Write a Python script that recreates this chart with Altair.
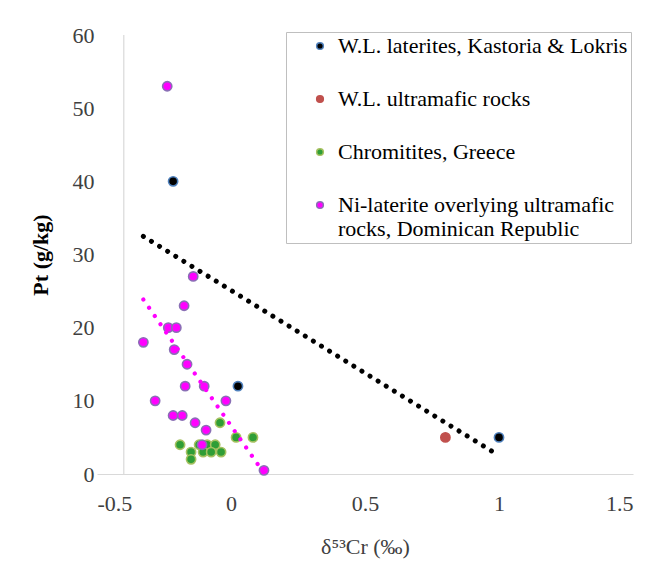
import altair as alt
import pandas as pd

series_names = [
    "W.L. laterites, Kastoria & Lokris",
    "W.L. ultramafic rocks",
    "Chromitites, Greece",
    "Ni-laterite overlying ultramafic rocks, Dominican Republic",
]

laterites_x = [-0.216, 0.026, 1.0]
laterites_y = [40, 12, 5]

ultramafic_x = [0.8]
ultramafic_y = [5]

chromitite_x = [-0.041, 0.019, 0.082, -0.190, -0.119, -0.089, -0.059,
                -0.149, -0.104, -0.074, -0.037, -0.149]
chromitite_y = [7, 5, 5, 4, 4, 4, 4, 3, 3, 3, 3, 2]

nilaterite_x = [-0.238, -0.141, -0.175, -0.234, -0.204, -0.327, -0.212, -0.164,
                -0.171, -0.100, -0.283, -0.019, -0.216, -0.182, -0.134, -0.093,
                -0.108, 0.123]
nilaterite_y = [53, 27, 23, 20, 20, 18, 17, 15, 12, 12, 10, 10, 8, 8, 7, 6, 4, 0.5]

x_ticks = [-0.5, 0, 0.5, 1, 1.5]
y_ticks = [0, 10, 20, 30, 40, 50, 60]
y_axis_cross = -0.4
black_trend_extent = [-0.327, 1.0]

fill_colors = ["#000000", "#c0504d", "#2f9e36", "#ff00ff"]
stroke_colors = ["#4f81bd", "#c0504d", "#a6c160", "#8a6fb5"]

rows = []
for name, xs, ys in zip(series_names,
                        [laterites_x, ultramafic_x, chromitite_x, nilaterite_x],
                        [laterites_y, ultramafic_y, chromitite_y, nilaterite_y]):
    for xv, yv in zip(xs, ys):
        rows.append({"series": name, "x": xv, "y": yv})
df = pd.DataFrame(rows)
df["order"] = range(len(df))

axis_df = pd.DataFrame({"x": [y_axis_cross], "y": [y_ticks[0]], "y2": [y_ticks[-1]]})

FONT = "Liberation Serif"

xscale = alt.Scale(domain=[x_ticks[0], x_ticks[-1]], nice=False, zero=False)
yscale = alt.Scale(domain=[y_ticks[0], y_ticks[-1]], nice=False)

legend = alt.Legend(
    title=None,
    orient="none",
    legendX=189,
    legendY=-3,
    strokeColor="#bfbfbf",
    padding=3,
    symbolOffset=20,
    symbolType="circle",
    symbolSize=45,
    symbolStrokeWidth=1.5,
    labelFont=FONT,
    labelFontSize=22,
    labelColor="#000000",
    labelOffset=7,
    labelLimit=500,
    rowPadding=31,
    labelExpr=(
        f"datum.label == '{series_names[3]}' ? "
        "['Ni-laterite overlying ultramafic', 'rocks, Dominican Republic'] : datum.label"
    ),
)

x_enc = alt.X(
    "x:Q",
    scale=xscale,
    axis=alt.Axis(
        values=x_ticks,
        title="δ⁵³Cr (‰)",
        labelExpr="'' + datum.value",
        grid=False,
        ticks=False,
        domainColor="#d9d9d9",
        domainWidth=1.2,
        labelPadding=19,
        titlePadding=22,
        labelFont=FONT,
        labelFontSize=22,
        labelColor="#404040",
        titleFont=FONT,
        titleFontSize=22,
        titleColor="#404040",
        titleFontWeight="normal",
    ),
)
y_enc = alt.Y(
    "y:Q",
    scale=yscale,
    axis=alt.Axis(
        values=y_ticks,
        title="Pt (g/kg)",
        grid=False,
        ticks=False,
        domain=False,
        labelPadding=3,
        titlePadding=20,
        labelFont=FONT,
        labelFontSize=22,
        labelColor="#404040",
        titleFont=FONT,
        titleFontSize=22,
        titleColor="#000000",
        titleFontWeight="bold",
    ),
)

axis_rule = alt.Chart(axis_df).mark_rule(color="#d9d9d9", strokeWidth=1.2).encode(
    x=alt.X("x:Q", scale=xscale),
    y=alt.Y("y:Q", scale=yscale),
    y2="y2:Q",
)

points = alt.Chart(df).mark_point(filled=True, size=85, opacity=1, strokeWidth=1.6).encode(
    x=x_enc,
    y=y_enc,
    fill=alt.Fill("series:N", scale=alt.Scale(domain=series_names, range=fill_colors), legend=legend),
    stroke=alt.Stroke("series:N", scale=alt.Scale(domain=series_names, range=stroke_colors), legend=legend),
    order=alt.Order("order:Q"),
)

black_trend = alt.Chart(df).transform_filter(
    alt.datum.series == series_names[0]
).transform_regression("x", "y", extent=black_trend_extent).mark_line(
    color="#000000", strokeWidth=5, strokeDash=[0.01, 9.5], strokeCap="round"
).encode(x=alt.X("x:Q", scale=xscale), y=alt.Y("y:Q", scale=yscale))

magenta_trend = alt.Chart(df).transform_filter(
    alt.datum.series == series_names[3]
).transform_regression("x", "y").mark_line(
    color="#ff00ff", strokeWidth=4.2, strokeDash=[0.01, 10], strokeCap="round"
).encode(x=alt.X("x:Q", scale=xscale), y=alt.Y("y:Q", scale=yscale))

chart = alt.layer(axis_rule, points, black_trend, magenta_trend).properties(
    width=536,
    height=439,
    background="white",
    autosize=alt.AutoSizeParams(type="none"),
    padding={"left": 89, "top": 27, "right": 9, "bottom": 90},
).configure_view(stroke=None)

chart.save("out.html", embed_options={"renderer": "svg", "actions": False})
